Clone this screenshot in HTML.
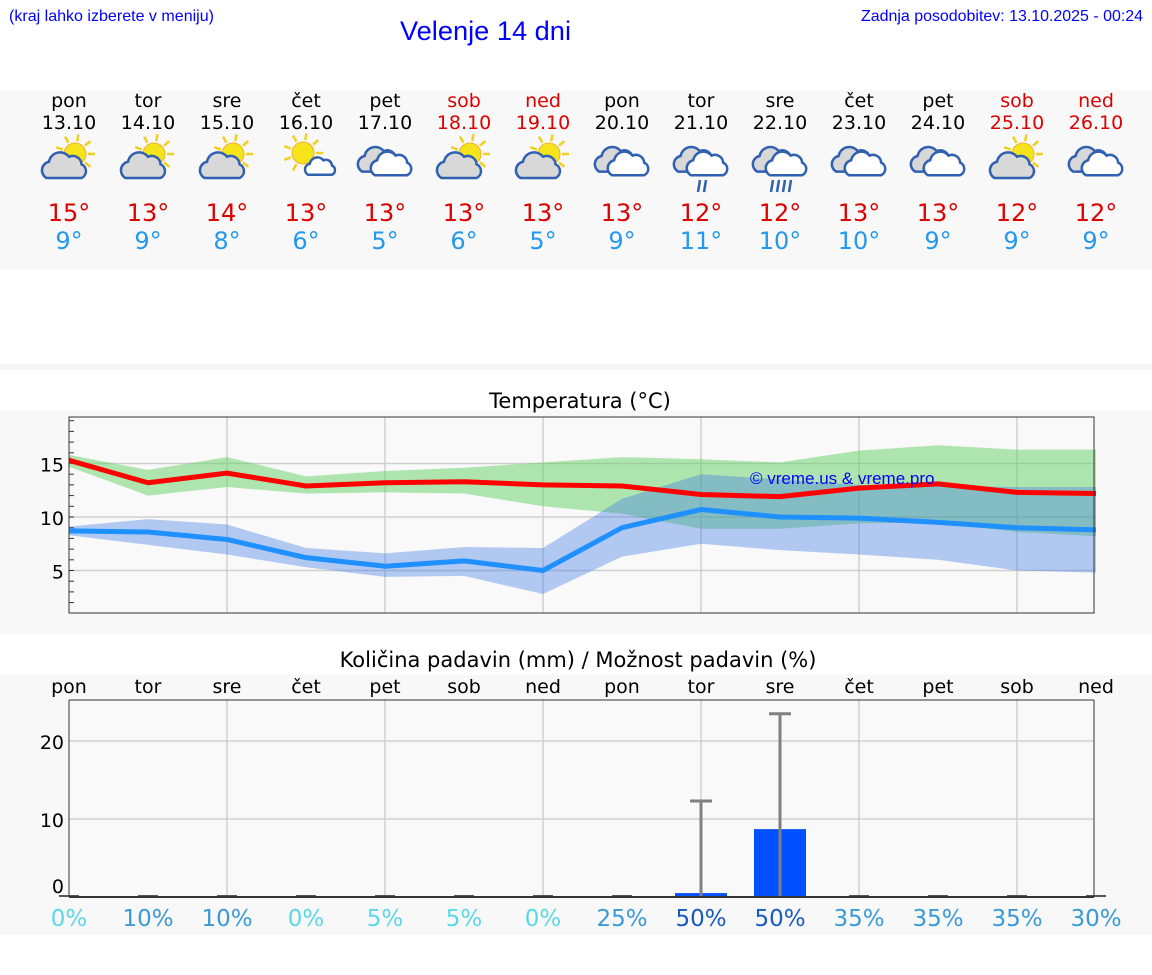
<!DOCTYPE html>
<html><head><meta charset="utf-8"><title>Velenje 14 dni</title>
<style>
html,body{margin:0;padding:0;background:#fff;width:1152px;height:975px;overflow:hidden}
svg{display:block}
.dv{font-family:"DejaVu Sans","Liberation Sans",sans-serif}
.ls{font-family:"Liberation Sans",sans-serif}
</style></head><body>
<svg id="s" width="1152" height="975" xmlns="http://www.w3.org/2000/svg">
<rect x="0" y="90" width="1152" height="180" fill="#f8f8f8"/>
<rect x="0" y="364" width="1152" height="6" fill="#f6f6f6"/>
<rect x="0" y="410" width="1152" height="224" fill="#f8f8f8"/>
<rect x="0" y="675" width="1152" height="260" fill="#f8f8f8"/>
<text class="ls" x="9" y="21" font-size="16" fill="#0000ff" textLength="205" lengthAdjust="spacingAndGlyphs">(kraj lahko izberete v meniju)</text>
<text class="ls" x="400" y="40" font-size="27" fill="#0000ff" textLength="171" lengthAdjust="spacingAndGlyphs">Velenje 14 dni</text>
<text class="ls" x="861" y="21" font-size="16" fill="#0000ff" textLength="282" lengthAdjust="spacingAndGlyphs">Zadnja posodobitev: 13.10.2025 - 00:24</text>
<g id="days"></g>
<text class="dv" x="580" y="408" font-size="21" text-anchor="middle">Temperatura (°C)</text>
<g id="temp"></g>
<text class="dv" x="578" y="667" font-size="21" text-anchor="middle">Količina padavin (mm) / Možnost padavin (%)</text>
<g id="prec"></g>
</svg>
<script>
const dayNames=["pon","tor","sre","čet","pet","sob","ned","pon","tor","sre","čet","pet","sob","ned"];
const dates=["13.10","14.10","15.10","16.10","17.10","18.10","19.10","20.10","21.10","22.10","23.10","24.10","25.10","26.10"];
const icons=["pc","pc","pc","sc","cl","pc","pc","cl","r2","r4","cl","cl","pc","cl"];
const maxT=[15,13,14,13,13,13,13,13,12,12,13,13,12,12];
const minT=[9,9,8,6,5,6,5,9,11,10,10,9,9,9];
const tMax=[15.3,13.2,14.1,12.9,13.2,13.3,13.0,12.9,12.1,11.9,12.7,13.1,12.3,12.2];
const tMaxHi=[15.8,14.4,15.6,13.8,14.3,14.6,15.1,15.6,15.4,15.1,16.2,16.7,16.3,16.3];
const tMaxLo=[14.7,12.0,12.8,12.2,12.3,12.2,11.0,10.3,8.9,8.9,9.4,9.5,8.6,8.2];
const tMin=[8.7,8.6,7.9,6.2,5.4,5.9,5.0,9.0,10.7,10.0,9.9,9.5,9.0,8.8];
const tMinHi=[9.1,9.8,9.3,7.1,6.6,7.2,7.1,11.7,14.0,13.5,13.0,12.9,12.8,12.8];
const tMinLo=[8.3,7.4,6.5,5.3,4.4,4.5,2.8,6.3,7.5,6.9,6.5,6.0,5.0,4.8];
const tTicks=[5,10,15];
const precip=[0,0,0,0,0,0,0,0,0.5,8.7,0,0,0,0];
const precipMax=[0,0,0,0,0,0,0,0,12.3,23.5,0,0,0,0];
const chance=[0,10,10,0,5,5,0,25,50,50,35,35,35,30];
const pTicks=[0,10,20];

const NS="http://www.w3.org/2000/svg";
function mk(p,tag,at,txt){const e=document.createElementNS(NS,tag);for(const k in at)e.setAttribute(k,at[k]);if(txt!==undefined)e.textContent=txt;p.appendChild(e);return e;}
const X=i=>69+i*79;
const weekend=d=>d==="sob"||d==="ned";

const D=document.getElementById('days');
function cloud(g,x,y,s,fill){
  const c=mk(g,'path',{d:`M${x-14*s},${y+8*s} a${7*s},${7*s} 0 0 1 ${2*s},${-13*s} a${9*s},${9*s} 0 0 1 ${16*s},${-4*s} a${7*s},${7*s} 0 0 1 ${10*s},${6*s} a${6*s},${6*s} 0 0 1 ${0},${11*s} z`,fill:fill,stroke:'#3060b0','stroke-width':2.5});
  
  
}
function sun(g,x,y,r){
  for(let a=0;a<360;a+=40){const rad=a*Math.PI/180;mk(g,'line',{x1:x+Math.cos(rad)*(r+2),y1:y+Math.sin(rad)*(r+2),x2:x+Math.cos(rad)*(r+9),y2:y+Math.sin(rad)*(r+9),stroke:'#f0d020','stroke-width':2.5});}
  const s=mk(g,'circle',{cx:x,cy:y,r:r,fill:'#f5e41c',stroke:'#f0b030','stroke-width':1});
  
  
}
for(let i=0;i<14;i++){
  const x=X(i),col=weekend(dayNames[i])?'#dd0000':'#000';
  const g=mk(D,'g',{});
  
  
  mk(g,'text',{x:x,y:107,'font-size':19,'text-anchor':'middle',fill:col,class:'dv'},dayNames[i]);
  mk(g,'text',{x:x,y:129,'font-size':19,'text-anchor':'middle',fill:col,class:'dv'},dates[i]);
  const ic=mk(D,'g',{});
  
  
  const t=icons[i];
  if(t==='pc'){sun(ic,x+6,154,11);cloud(ic,x-5,168,1.25,'#d8d8d8');}
  else if(t==='sc'){sun(ic,x-3,153,11);cloud(ic,x+14,168,0.85,'#fff');}
  else {cloud(ic,x-6,162,1.2,'#d8d8d8');cloud(ic,x+6,166,1.15,'#fff');
    if(t==='r2'||t==='r4'){const n=t==='r2'?2:4;for(let k=0;k<n;k++){const rx=x-7+k*6+(n===2?4:-2);mk(ic,'line',{x1:rx+2,y1:180,x2:rx,y2:192,stroke:'#3060b0','stroke-width':2.5});}}}
  mk(g,'text',{x:x,y:221,'font-size':24,'text-anchor':'middle',fill:'#dd0000',class:'dv'},maxT[i]+'°');
  mk(g,'text',{x:x,y:249,'font-size':24,'text-anchor':'middle',fill:'#2299ee',class:'dv'},minT[i]+'°');
}

const T=document.getElementById('temp');
const L=69,R=1094,TT=417,TB=613;
const Y=v=>517-(v-10)*10.7;
mk(T,'rect',{x:L,y:TT,width:R-L,height:TB-TT,fill:'#f9f9f9'});
for(let i=2;i<14;i+=2)mk(T,'line',{x1:X(i),y1:TT,x2:X(i),y2:TB,stroke:'#cfcfcf','stroke-width':1.5});
tTicks.forEach(v=>{mk(T,'line',{x1:L,y1:Y(v),x2:R,y2:Y(v),stroke:'#cfcfcf','stroke-width':1.5});
  const tl=mk(T,'text',{x:L-5,y:Y(v)+8,'font-size':19,'text-anchor':'end',class:'dv'},v);
  
  });
for(let v=2;v<=19;v++)mk(T,'line',{x1:L,y1:Y(v),x2:L+5,y2:Y(v),stroke:'#333','stroke-width':1});
function band(hi,lo,fill,name){let d='';hi.forEach((v,i)=>d+=(i?'L':'M')+X(i)+','+Y(v));for(let i=lo.length-1;i>=0;i--)d+='L'+X(i)+','+Y(lo[i]);
  const p=mk(T,'path',{d:d+'Z',fill:fill});}
band(tMaxHi,tMaxLo,'rgba(100,210,100,0.5)','max-temp-range');
band(tMinHi,tMinLo,'rgba(60,120,230,0.38)','min-temp-range');
function line(a,c,name){const p=mk(T,'polyline',{points:a.map((v,i)=>X(i)+','+Y(v)).join(' '),fill:'none',stroke:c,'stroke-width':5,'stroke-linejoin':'round'});
  }
line(tMin,'#1e90ff','min-temp-line');
line(tMax,'#ff0000','max-temp-line');
const wm=mk(T,'text',{x:750,y:484,'font-size':17,fill:'#0000ff',class:'ls'},'© vreme.us & vreme.pro');


mk(T,'rect',{x:L,y:TT,width:R-L,height:TB-TT,fill:'none',stroke:'#333','stroke-width':1});

const P=document.getElementById('prec');
const PT=700,PB=897;
const PY=v=>PB-v*7.8;
mk(P,'rect',{x:L,y:PT,width:R-L,height:PB-PT,fill:'#f9f9f9'});
for(let i=2;i<14;i+=2)mk(P,'line',{x1:X(i),y1:PT,x2:X(i),y2:PB,stroke:'#cfcfcf','stroke-width':1.5});
pTicks.forEach(v=>{if(v>0)mk(P,'line',{x1:L,y1:PY(v),x2:R,y2:PY(v),stroke:'#cfcfcf','stroke-width':1.5});
  const tl=mk(P,'text',{x:L-5,y:PY(v)+(v===0?-4:8),'font-size':19,'text-anchor':'end',class:'dv'},v);
  
  });
for(let i=0;i<14;i++){
  const dl=mk(P,'text',{x:X(i),y:693,'font-size':19,'text-anchor':'middle',class:'dv'},dayNames[i]);
  
  
  if(precip[i]>0){const b=mk(P,'rect',{x:X(i)-26,y:PY(precip[i]),width:52,height:PB-PY(precip[i]),fill:'#0050ff'});
    }
  if(precipMax[i]>0){mk(P,'line',{x1:X(i),y1:PY(precipMax[i]),x2:X(i),y2:PB,stroke:'#808080','stroke-width':3});
    const cap=mk(P,'line',{x1:X(i)-11,y1:PY(precipMax[i]),x2:X(i)+11,y2:PY(precipMax[i]),stroke:'#808080','stroke-width':3});
    }
  else mk(P,'line',{x1:X(i)-10,y1:PB-1,x2:X(i)+10,y2:PB-1,stroke:'#555','stroke-width':2});
  const c=chance[i],col=c>=50?'#1a5bbf':(c>=10?'#3a9ad8':'#5ad8e8');
  const ct=mk(P,'text',{x:X(i),y:926,'font-size':23,'text-anchor':'middle',fill:col,class:'dv'},c+'%');
  
  
}
mk(P,'line',{x1:L,y1:PT,x2:R,y2:PT,stroke:'#333'});
mk(P,'line',{x1:L,y1:PT,x2:L,y2:PB,stroke:'#333'});
mk(P,'line',{x1:R,y1:PT,x2:R,y2:PB,stroke:'#333'});
mk(P,'line',{x1:L,y1:PB,x2:R,y2:PB,stroke:'#333','stroke-width':2});
</script>
</body></html>
